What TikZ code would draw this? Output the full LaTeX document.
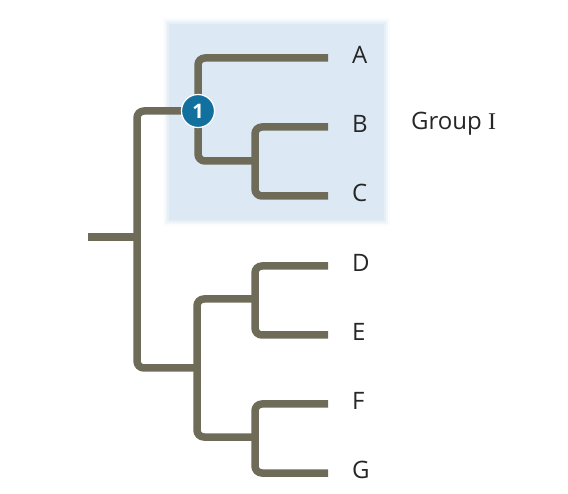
\documentclass[tikz,border=0pt]{standalone}
\usepackage{fontspec}
\setmainfont{Open Sans}
\newfontfamily\romanfont{Liberation Serif}
\usepackage{tikz}
\usetikzlibrary{positioning}

\definecolor{branchcol}{RGB}{110,108,88}
\definecolor{groupbg}{RGB}{220,233,245}
\definecolor{nodeblue}{RGB}{18,112,158}

\begin{document}
\begin{tikzpicture}[x=1pt,y=-1pt,
	branch/.style={line width=7.5pt,color=branchcol,rounded corners=7pt},
	leaf/.style={inner sep=0pt,font=\fontsize{24}{24}\selectfont,text=black!85,yshift=3pt},
	label distance=24pt]
	\useasboundingbox (0,0) rectangle (568,494);

		% shaded group, soft edge
		\foreach \d/\o in {6/0.15,4/0.3,2/0.55,0/1}
			\fill [groupbg,opacity=\o] (169-\d,24-\d) rectangle (384+\d,220+\d);

		\coordinate (STUB) at (88,237);
		\coordinate (ROOT) at (137,237);
		\coordinate (N1) at (198,111);
		\coordinate (NBC) at (255,161);
		\coordinate (NDG) at (197,368);
		\coordinate (NDE) at (255,299);
		\coordinate (NFG) at (255,437);

		\coordinate [label={[leaf]right:A}](LA) at (328,58);
		\coordinate [label={[leaf]right:B}](LB) at (328,127);
		\coordinate [label={[leaf]right:C}](LC) at (328,196);
		\coordinate [label={[leaf]right:D}](LD) at (328,266);
		\coordinate [label={[leaf]right:E}](LE) at (328,335);
		\coordinate [label={[leaf]right:F}](LF) at (328,404);
		\coordinate [label={[leaf]right:G}](LG) at (328,473);

		\draw [branch] (STUB) -- (ROOT);
		\draw [branch] (ROOT) |- (N1);
		\draw [branch] (ROOT) |- (NDG);
		\draw [branch] (N1) |- (LA);
		\draw [branch] (N1) |- (NBC);
		\draw [branch] (NBC) |- (LB);
		\draw [branch] (NBC) |- (LC);
		\draw [branch] (NDG) |- (NDE);
		\draw [branch] (NDG) |- (NFG);
		\draw [branch] (NDE) |- (LD);
		\draw [branch] (NDE) |- (LE);
		\draw [branch] (NFG) |- (LF);
		\draw [branch] (NFG) |- (LG);

		\node [circle,fill=nodeblue,draw=white,line width=1.2pt,minimum size=33pt,inner sep=0pt,
			text=white,font=\fontsize{20}{20}\selectfont\bfseries] (BADGE) at (N1) {1};

		\node [anchor=west,inner sep=0pt,font=\fontsize{24}{24}\selectfont,text=black!85] (GROUP) at (411,124) {Group {\romanfont I}};

	\end{tikzpicture}
\end{document}
